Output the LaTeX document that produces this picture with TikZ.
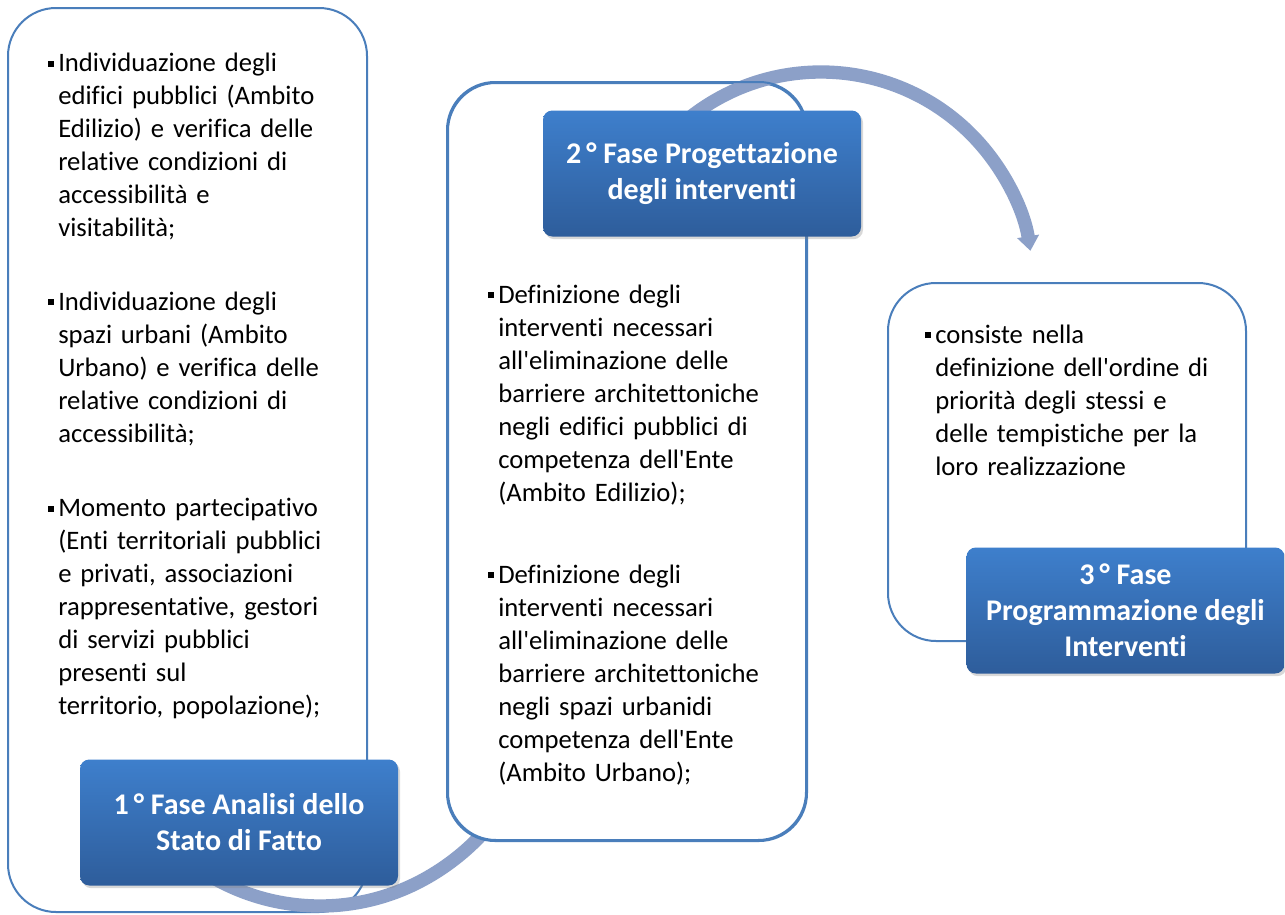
\documentclass[tikz,border=0pt]{standalone}
\usepackage{fontspec}
\setmainfont{Carlito}[Ligatures=NoCommon]
\usetikzlibrary{arrows.meta,shadows,positioning}

\definecolor{panelblue}{RGB}{74,126,187}
\definecolor{phasetop}{RGB}{62,127,204}
\definecolor{phasebot}{RGB}{46,93,155}
\definecolor{flowblue}{RGB}{140,160,200}

\tikzset{
  panel/.style={draw=panelblue, line width=1.5pt, rounded corners=36pt, fill=white, inner sep=0pt},
  phase/.style={rounded corners=7pt, top color=phasetop, bottom color=phasebot, text=white,
    font=\fontsize{22.5}{27}\selectfont\bfseries, align=center, inner sep=0pt,
    minimum width=238.5pt, minimum height=94.5pt,
    drop shadow={opacity=0.3, shadow xshift=1.5pt, shadow yshift=-2pt}},
  bulltext/.style={anchor=base west, inner sep=0pt, text width=250pt, align=left,
    font=\fontsize{20}{24.75}\selectfont},
  flow/.style={line width=10pt, color=flowblue, -{Triangle[width=16pt,length=11pt]}}
}
\newcommand{\blt}{\llap{\rule[3.6pt]{4.5pt}{4.5pt}\hspace{3pt}}}
\newcommand{\apo}{\textquotesingle}

\begin{document}
\begin{tikzpicture}[x=0.75pt,y=-0.75pt]
  \fill[white] (0,0) rectangle (1285,914);
  \useasboundingbox (0,0) rectangle (1285,914);

  % first phase
  \node[panel, minimum width=269.25pt, minimum height=678pt] (box1) at (187.5,460) {};
  \coordinate (hub1) at (320,690);
  \draw[flow] ([shift={(125:216)}]hub1) arc[start angle=125, end angle=25, radius=216];
  \node[phase] (fase1) at (239,822.5) {1\,° Fase Analisi dello\\Stato di Fatto};

  % second phase
  \node[panel, minimum width=268.5pt, minimum height=567.75pt] (box2) at (627,461.5) {};
  \coordinate (hub2) at (821,284);
  \draw[flow] ([shift={(230:212)}]hub2) arc[start angle=230, end angle=351, radius=212];
  \draw[panel, fill=none] (box2.south west) rectangle (box2.north east);
  \node[phase] (fase2) at (702,173.5) {2\,° Fase Progettazione\\degli interventi};

  % third phase
  \node[panel, minimum width=268.5pt, minimum height=268.5pt] (box3) at (1067,462) {};
  \node[phase] (fase3) at (1125.5,610.5) {3\,° Fase\\Programmazione degli\\Interventi};

  % bullet texts
  \node[bulltext] (analisi1) at (58,71.7) {\blt Individuazione degli\\edifici pubblici (Ambito\\Edilizio) e verifica delle\\relative condizioni di\\accessibilità e\\visitabilità;};
  \node[bulltext] (analisi2) at (58,310) {\blt Individuazione degli\\spazi urbani (Ambito\\Urbano) e verifica delle\\relative condizioni di\\accessibilità;};
  \node[bulltext] (analisi3) at (58,516.7) {\blt Momento partecipativo\\(Enti territoriali pubblici\\e privati, associazioni\\rappresentative, gestori\\di servizi pubblici\\presenti sul\\territorio, popolazione);};

  \node[bulltext] (progetto1) at (498,303) {\blt Definizione degli\\interventi necessari\\all\apo eliminazione delle\\barriere architettoniche\\negli edifici pubblici di\\competenza dell\apo Ente\\(Ambito Edilizio);};
  \node[bulltext] (progetto2) at (498,583) {\blt Definizione degli\\interventi necessari\\all\apo eliminazione delle\\barriere architettoniche\\negli spazi urbanidi\\competenza dell\apo Ente\\(Ambito Urbano);};

  \node[bulltext] (priorita) at (935,343) {\blt consiste nella\\definizione dell\apo ordine di\\priorità degli stessi e\\delle tempistiche per la\\loro realizzazione};
\end{tikzpicture}
\end{document}
